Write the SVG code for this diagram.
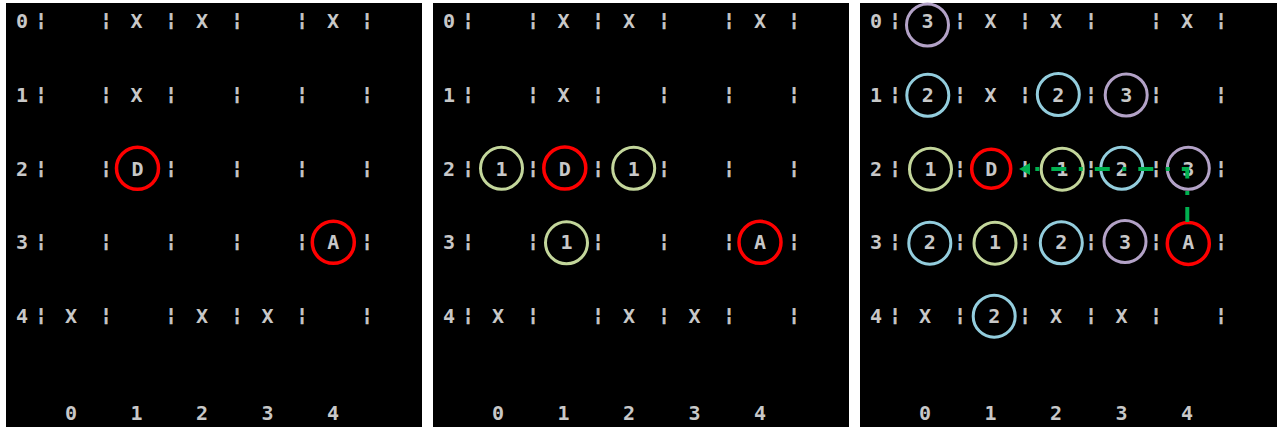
<svg xmlns="http://www.w3.org/2000/svg" width="1283" height="434" viewBox="0 0 1283 434">
<style>
.bg{fill:#000}
.t{font-family:"DejaVu Sans Mono","Liberation Mono",monospace;font-weight:bold;font-size:20px;fill:#c8c8c8;text-anchor:middle}
.b{font-family:"DejaVu Sans Mono","Liberation Mono",monospace;font-weight:bold;font-size:18.5px;fill:#c8c8c8;stroke:#c8c8c8;stroke-width:0.7;text-anchor:middle}
.ring{fill:none;stroke-width:3}
.red{stroke:#ff0000;stroke-width:3.5}
.grn{stroke:#c3d69b}
.cyn{stroke:#93cddd}
.pur{stroke:#b3a2c7}
.route{fill:none;stroke:#00b050;stroke-width:4;stroke-dasharray:15 12 4 12.5}
</style>
<defs>
<marker id="ah" markerUnits="userSpaceOnUse" markerWidth="12" markerHeight="13" refX="0" refY="6" orient="auto"><path d="M0,0 L11,6 L0,12 z" fill="#00b050"/></marker>
</defs>
<rect width="1283" height="434" fill="#fff"/>

<!-- Panel 1 -->
<g id="panel1">
<rect class="bg" x="6" y="3" width="416" height="424"/>
<g id="p1-bars">
<text class="b" x="41" y="26">¦</text><text class="b" x="106" y="26">¦</text><text class="b" x="171" y="26">¦</text><text class="b" x="237" y="26">¦</text><text class="b" x="302" y="26">¦</text><text class="b" x="367" y="26">¦</text>
<text class="b" x="41" y="100">¦</text><text class="b" x="106" y="100">¦</text><text class="b" x="171" y="100">¦</text><text class="b" x="237" y="100">¦</text><text class="b" x="302" y="100">¦</text><text class="b" x="367" y="100">¦</text>
<text class="b" x="41" y="173.5">¦</text><text class="b" x="106" y="173.5">¦</text><text class="b" x="171" y="173.5">¦</text><text class="b" x="237" y="173.5">¦</text><text class="b" x="302" y="173.5">¦</text><text class="b" x="367" y="173.5">¦</text>
<text class="b" x="41" y="247">¦</text><text class="b" x="106" y="247">¦</text><text class="b" x="171" y="247">¦</text><text class="b" x="237" y="247">¦</text><text class="b" x="302" y="247">¦</text><text class="b" x="367" y="247">¦</text>
<text class="b" x="41" y="321">¦</text><text class="b" x="106" y="321">¦</text><text class="b" x="171" y="321">¦</text><text class="b" x="237" y="321">¦</text><text class="b" x="302" y="321">¦</text><text class="b" x="367" y="321">¦</text>
</g>
<g id="p1-cells">
<text class="t" x="22" y="28.3">0</text><text class="t" x="22" y="102.3">1</text><text class="t" x="22" y="175.8">2</text><text class="t" x="22" y="249.3">3</text><text class="t" x="22" y="323.3">4</text>
<text class="t" x="136.5" y="28.3">X</text><text class="t" x="202" y="28.3">X</text><text class="t" x="333" y="28.3">X</text>
<text class="t" x="136.5" y="102.3">X</text>
<text class="t" x="71" y="323.3">X</text><text class="t" x="202" y="323.3">X</text><text class="t" x="267.5" y="323.3">X</text>
<text class="t" x="71" y="420.3">0</text><text class="t" x="136.5" y="420.3">1</text><text class="t" x="202" y="420.3">2</text><text class="t" x="267.5" y="420.3">3</text><text class="t" x="333" y="420.3">4</text>
</g>
<g id="p1-D"><circle class="ring red" cx="137.5" cy="168.3" r="21"/><text class="t" x="137.5" y="175.8">D</text></g>
<g id="p1-A"><circle class="ring red" cx="333.3" cy="242.3" r="21"/><text class="t" x="333.3" y="249.3">A</text></g>
</g>

<!-- Panel 2 -->
<g id="panel2" transform="translate(427,0)">
<rect class="bg" x="6" y="3" width="416" height="424"/>
<g id="p2-bars">
<text class="b" x="41" y="26">¦</text><text class="b" x="106" y="26">¦</text><text class="b" x="171" y="26">¦</text><text class="b" x="237" y="26">¦</text><text class="b" x="302" y="26">¦</text><text class="b" x="367" y="26">¦</text>
<text class="b" x="41" y="100">¦</text><text class="b" x="106" y="100">¦</text><text class="b" x="171" y="100">¦</text><text class="b" x="237" y="100">¦</text><text class="b" x="302" y="100">¦</text><text class="b" x="367" y="100">¦</text>
<text class="b" x="41" y="173.5">¦</text><text class="b" x="106" y="173.5">¦</text><text class="b" x="171" y="173.5">¦</text><text class="b" x="237" y="173.5">¦</text><text class="b" x="302" y="173.5">¦</text><text class="b" x="367" y="173.5">¦</text>
<text class="b" x="41" y="247">¦</text><text class="b" x="106" y="247">¦</text><text class="b" x="171" y="247">¦</text><text class="b" x="237" y="247">¦</text><text class="b" x="302" y="247">¦</text><text class="b" x="367" y="247">¦</text>
<text class="b" x="41" y="321">¦</text><text class="b" x="106" y="321">¦</text><text class="b" x="171" y="321">¦</text><text class="b" x="237" y="321">¦</text><text class="b" x="302" y="321">¦</text><text class="b" x="367" y="321">¦</text>
</g>
<g id="p2-cells">
<text class="t" x="22" y="28.3">0</text><text class="t" x="22" y="102.3">1</text><text class="t" x="22" y="175.8">2</text><text class="t" x="22" y="249.3">3</text><text class="t" x="22" y="323.3">4</text>
<text class="t" x="136.5" y="28.3">X</text><text class="t" x="202" y="28.3">X</text><text class="t" x="333" y="28.3">X</text>
<text class="t" x="136.5" y="102.3">X</text>
<text class="t" x="71" y="323.3">X</text><text class="t" x="202" y="323.3">X</text><text class="t" x="267.5" y="323.3">X</text>
<text class="t" x="71" y="420.3">0</text><text class="t" x="136.5" y="420.3">1</text><text class="t" x="202" y="420.3">2</text><text class="t" x="267.5" y="420.3">3</text><text class="t" x="333" y="420.3">4</text>
</g>
<g id="p2-c20"><circle class="ring grn" cx="74.5" cy="168.3" r="21"/><text class="t" x="74.5" y="175.8">1</text></g>
<g id="p2-D"><circle class="ring red" cx="137.8" cy="168.1" r="21"/><text class="t" x="137.8" y="175.8">D</text></g>
<g id="p2-c22"><circle class="ring grn" cx="206.7" cy="168.3" r="21"/><text class="t" x="206.7" y="175.8">1</text></g>
<g id="p2-c31"><circle class="ring grn" cx="139.5" cy="242.8" r="21"/><text class="t" x="139.5" y="249.3">1</text></g>
<g id="p2-A"><circle class="ring red" cx="333" cy="242.3" r="21"/><text class="t" x="333" y="249.3">A</text></g>
</g>

<!-- Panel 3 -->
<g id="panel3" transform="translate(854,0)">
<rect class="bg" x="6" y="3" width="417" height="424"/>
<g id="p3-bars">
<text class="b" x="41" y="26">¦</text><text class="b" x="106" y="26">¦</text><text class="b" x="171" y="26">¦</text><text class="b" x="237" y="26">¦</text><text class="b" x="302" y="26">¦</text><text class="b" x="367" y="26">¦</text>
<text class="b" x="41" y="100">¦</text><text class="b" x="106" y="100">¦</text><text class="b" x="171" y="100">¦</text><text class="b" x="237" y="100">¦</text><text class="b" x="302" y="100">¦</text><text class="b" x="367" y="100">¦</text>
<text class="b" x="41" y="173.5">¦</text><text class="b" x="106" y="173.5">¦</text><text class="b" x="171" y="173.5">¦</text><text class="b" x="237" y="173.5">¦</text><text class="b" x="302" y="173.5">¦</text><text class="b" x="367" y="173.5">¦</text>
<text class="b" x="41" y="247">¦</text><text class="b" x="106" y="247">¦</text><text class="b" x="171" y="247">¦</text><text class="b" x="237" y="247">¦</text><text class="b" x="302" y="247">¦</text><text class="b" x="367" y="247">¦</text>
<text class="b" x="41" y="321">¦</text><text class="b" x="106" y="321">¦</text><text class="b" x="171" y="321">¦</text><text class="b" x="237" y="321">¦</text><text class="b" x="302" y="321">¦</text><text class="b" x="367" y="321">¦</text>
</g>
<g id="p3-cells">
<text class="t" x="22" y="28.3">0</text><text class="t" x="22" y="102.3">1</text><text class="t" x="22" y="175.8">2</text><text class="t" x="22" y="249.3">3</text><text class="t" x="22" y="323.3">4</text>
<text class="t" x="136.5" y="28.3">X</text><text class="t" x="202" y="28.3">X</text><text class="t" x="333" y="28.3">X</text>
<text class="t" x="136.5" y="102.3">X</text>
<text class="t" x="71" y="323.3">X</text><text class="t" x="202" y="323.3">X</text><text class="t" x="267.5" y="323.3">X</text>
<text class="t" x="71" y="420.3">0</text><text class="t" x="136.5" y="420.3">1</text><text class="t" x="202" y="420.3">2</text><text class="t" x="267.5" y="420.3">3</text><text class="t" x="333" y="420.3">4</text>
</g>
<g id="p3-c00"><circle class="ring pur" cx="73.5" cy="25" r="21"/><text class="t" x="73.5" y="28.3">3</text></g>
<g id="p3-c10"><circle class="ring cyn" cx="73.8" cy="95.3" r="21"/><text class="t" x="73.8" y="102.3">2</text></g>
<g id="p3-c12"><circle class="ring cyn" cx="204.3" cy="94.5" r="21"/><text class="t" x="204.3" y="102.3">2</text></g>
<g id="p3-c13"><circle class="ring pur" cx="272.2" cy="95" r="21"/><text class="t" x="272.2" y="102.3">3</text></g>
<g id="p3-c20"><circle class="ring grn" cx="76.5" cy="169.2" r="21"/><text class="t" x="76.5" y="175.8">1</text></g>
<g id="p3-D"><circle class="ring red" cx="137.2" cy="168.8" r="19.5"/><text class="t" x="137.2" y="175.8">D</text></g>
<g id="p3-c22"><circle class="ring grn" cx="208.2" cy="169.2" r="21"/><text class="t" x="208.2" y="175.8">1</text></g>
<g id="p3-c23"><circle class="ring cyn" cx="267.8" cy="168.3" r="21"/><text class="t" x="267.8" y="175.8">2</text></g>
<g id="p3-c24"><circle class="ring pur" cx="334.3" cy="168.3" r="21"/><text class="t" x="334.3" y="175.8">3</text></g>
<g id="p3-c30"><circle class="ring cyn" cx="75.8" cy="243.2" r="21"/><text class="t" x="75.8" y="249.3">2</text></g>
<g id="p3-c31"><circle class="ring grn" cx="141" cy="243.2" r="21"/><text class="t" x="141" y="249.3">1</text></g>
<g id="p3-c32"><circle class="ring cyn" cx="207.3" cy="242.8" r="21"/><text class="t" x="207.3" y="249.3">2</text></g>
<g id="p3-c33"><circle class="ring pur" cx="271" cy="241.5" r="21"/><text class="t" x="271" y="249.3">3</text></g>
<g id="p3-A"><circle class="ring red" cx="334.3" cy="243.5" r="21"/><text class="t" x="334.3" y="249.3">A</text></g>
<g id="p3-c41"><circle class="ring cyn" cx="140.2" cy="316.2" r="21"/><text class="t" x="140.2" y="323.3">2</text></g>
</g>

<!-- Connectors -->
<g id="connectors">
<path class="route" d="M1187.3,222 V169 H1030" marker-end="url(#ah)"/>
</g>
</svg>
